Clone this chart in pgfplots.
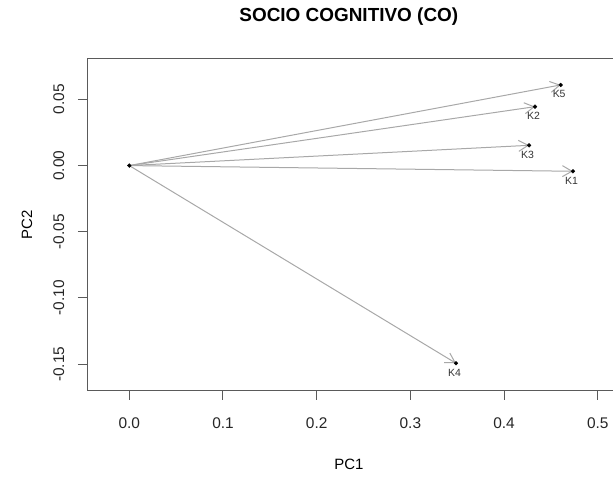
\documentclass[border=0pt]{standalone}
\usepackage{fontspec}
\setmainfont{Liberation Sans}
\usepackage{pgfplots}
\usepackage{pgfplotstable}
\pgfplotsset{compat=1.18}
\usetikzlibrary{arrows.meta}
\definecolor{arrowgray}{HTML}{A8A8A8}
\definecolor{axgray}{HTML}{5A5A5A}
\pgfplotstableread{
x y label
0.4735 -0.0043 K1
0.4330 0.0445 K2
0.4267 0.0153 K3
0.3487 -0.1493 K4
0.4604 0.0609 K5
}\loadings
\begin{document}
\begin{tikzpicture}
\clip (-87.5bp,-89bp) rectangle (525.5bp,390bp);
\begin{axis}[
  scale only axis, width=529bp, height=331bp,
  xmin=-0.0446, xmax=0.52, ymin=-0.1695, ymax=0.0805,
  axis line style={axgray, line width=1bp},
  tick style={axgray, line width=1bp},
  tick align=outside, major tick length=9.5bp,
  xtick={0,0.1,0.2,0.3,0.4,0.5}, xticklabels={0.0,0.1,0.2,0.3,0.4,0.5},
  ytick={-0.15,-0.1,-0.05,0,0.05}, yticklabels={-0.15,-0.10,-0.05,0.00,0.05},
  xtick pos=bottom, ytick pos=left,
  tick label style={font=\fontsize{15.5}{18}\selectfont, text=black!85, inner sep=0pt},
  xticklabel style={anchor=north},
  yticklabel style={rotate=90, anchor=south},
  xticklabel shift=18.1bp, yticklabel shift=13.4bp,
  title={SOCIO COGNITIVO (CO)},
  title style={at={(0.494,1.0967)}, anchor=base, font=\bfseries\fontsize{19}{23}\selectfont, inner sep=0pt},
  xlabel={PC1},
  xlabel style={at={(0.494,-0.2387)}, anchor=base, font=\fontsize{15}{18}\selectfont, inner sep=0pt},
  ylabel={PC2},
  ylabel style={at={(-0.1049,0.5)}, anchor=base, font=\fontsize{15}{18}\selectfont, inner sep=0pt},
  clip=false,
]
\addplot[arrowgray, line width=1bp, quiver={u=\thisrow{x}, v=\thisrow{y}},
  -{Straight Barb[angle=60:11bp]}] table[x expr=0, y expr=0] {\loadings};
\addplot[only marks, mark=*, mark size=1.9bp, black,
  nodes near coords, point meta=explicit symbolic,
  every node near coord/.append style={anchor=center, yshift=-9.3bp, xshift=-1.5bp,
    font=\fontsize{10.5}{12}\selectfont, text=black!80}]
  table[x=x, y=y, meta=label] {\loadings};
\addplot[only marks, mark=*, mark size=1.9bp, black] coordinates {(0,0)};
\end{axis}
\end{tikzpicture}
\end{document}
